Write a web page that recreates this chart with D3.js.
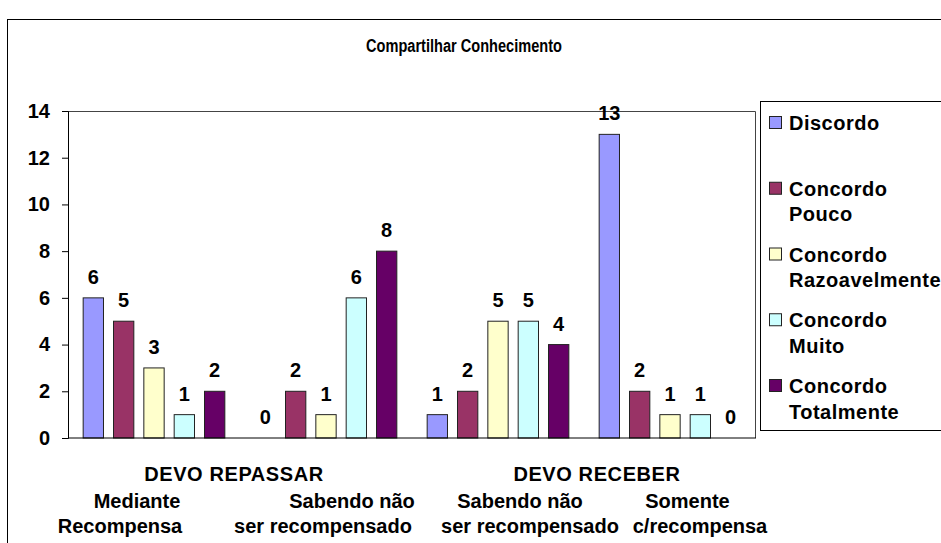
<!DOCTYPE html>
<html><head><meta charset="utf-8">
<script src="https://cdn.jsdelivr.net/npm/d3@7"></script>
<style>
html,body{margin:0;padding:0;background:#fff;}
text{font-family:Arial,"Liberation Sans",sans-serif;font-weight:bold;fill:#000;}
</style></head>
<body><svg id="chart" width="941" height="543"></svg>
<script>
// ---- data ----
const title = "Compartilhar Conhecimento";
const categories = ["Mediante Recompensa", "Repassar Sabendo não ser recompensado", "Receber Sabendo não ser recompensado", "Somente c/recompensa"];
const catLine2 = ["Mediante", "Sabendo não", "Sabendo não", "Somente"];
const catLine3 = ["Recompensa", "ser recompensado", "ser recompensado", "c/recompensa"];
const groupTitles = ["DEVO REPASSAR", "DEVO RECEBER"];
const seriesNames = ["Discordo", "Concordo Pouco", "Concordo Razoavelmente", "Concordo Muito", "Concordo Totalmente"];
const legendLines = [["Discordo"], ["Concordo", "Pouco"], ["Concordo", "Razoavelmente"], ["Concordo", "Muito"], ["Concordo", "Totalmente"]];
const discordo = [6, 0, 1, 13];
const concordoPouco = [5, 2, 2, 2];
const concordoRazoavelmente = [3, 1, 5, 1];
const concordoMuito = [1, 6, 5, 1];
const concordoTotalmente = [2, 8, 4, 0];
const yTicks = [0, 2, 4, 6, 8, 10, 12, 14];

// ---- layout / style ----
const colors = ["#9999FF", "#993366", "#FFFFCC", "#CCFFFF", "#660066"];
const seriesValues = [discordo, concordoPouco, concordoRazoavelmente, concordoMuito, concordoTotalmente];
const plot = {left: 68, right: 756, top: 111, bottom: 438};
const line2Dx = [-17, 26, 22, 17.5];
const line3Dx = [-34, -3, 32, 30];
const groupTitleDx = [-6, 13];
const FS = 20;

const svg = d3.select("#chart");

// outer frame
svg.append("rect").attr("x", 7.5).attr("y", 19.5).attr("width", 960).attr("height", 560)
  .attr("fill", "none").attr("stroke", "#000").attr("stroke-width", 1);

svg.append("text").attr("x", 464).attr("y", 52).attr("text-anchor", "middle")
  .attr("textLength", 196).attr("lengthAdjust", "spacingAndGlyphs")
  .style("font-size", "18px").text(title);

const x0 = d3.scaleBand().domain(d3.range(categories.length)).range([plot.left, plot.right]);
const x1 = d3.scaleBand().domain(d3.range(seriesNames.length)).range([0, x0.bandwidth()])
  .paddingInner(0.33).paddingOuter(0.5);
const y = d3.scaleLinear().domain([0, 14]).range([plot.bottom, plot.top]);

// plot area border (top and right)
svg.append("path")
  .attr("d", `M${plot.left},${plot.top + 0.5}H${plot.right - 0.5}V${plot.bottom}`)
  .attr("fill", "none").attr("stroke", "#444").attr("stroke-width", 1);

// bars
const g = svg.append("g");
seriesValues.forEach((vals, s) => {
  vals.forEach((v, c) => {
    const bx = x0(c) + x1(s);
    if (v > 0) {
      g.append("rect").attr("x", bx).attr("y", y(v))
        .attr("width", x1.bandwidth()).attr("height", y(0) - y(v))
        .attr("fill", colors[s]).attr("stroke", "#222").attr("stroke-width", 1);
    }
    g.append("text").attr("x", bx + x1.bandwidth() / 2).attr("y", y(v) - 14)
      .attr("text-anchor", "middle").style("font-size", FS + "px").text(v);
  });
});

// y axis
const yAxis = d3.axisLeft(y).tickValues(yTicks).tickSize(6).tickPadding(12);
const ya = svg.append("g").attr("transform", `translate(${plot.left},0)`).call(yAxis);
ya.select(".domain").attr("stroke", "#000");
ya.selectAll(".tick line").attr("stroke", "#000");
ya.selectAll(".tick text").style("font-size", FS + "px").style("font-family", "Arial, 'Liberation Sans', sans-serif")
  .style("font-weight", "bold").attr("fill", "#000");

// x axis baseline
svg.append("line").attr("x1", plot.left).attr("x2", plot.right).attr("y1", y(0)).attr("y2", y(0))
  .attr("stroke", "#000");

// category labels
groupTitles.forEach((t, i) => {
  const cx = (x0(2 * i) + x0(2 * i + 1) + x0.bandwidth()) / 2;
  svg.append("text").attr("x", cx + groupTitleDx[i]).attr("y", 481).attr("text-anchor", "middle")
    .style("font-size", FS + "px").style("letter-spacing", "0.6px").text(t);
});
categories.forEach((c, i) => {
  const cx = x0(i) + x0.bandwidth() / 2;
  svg.append("text").attr("x", cx + line2Dx[i]).attr("y", 508).attr("text-anchor", "middle")
    .style("font-size", FS + "px").text(catLine2[i]);
  svg.append("text").attr("x", cx + line3Dx[i]).attr("y", 533).attr("text-anchor", "middle")
    .style("font-size", FS + "px").text(catLine3[i]);
});

// legend
svg.append("rect").attr("x", 760.5).attr("y", 101.5).attr("width", 300).attr("height", 329)
  .attr("fill", "#fff").attr("stroke", "#000").attr("stroke-width", 1);
const itemY = d3.scaleLinear().domain([0, 4]).range([123, 386]);
legendLines.forEach((lines, i) => {
  const cy = itemY(i);
  svg.append("rect").attr("x", 769.5).attr("y", cy - 6.5).attr("width", 12).attr("height", 12)
    .attr("fill", colors[i]).attr("stroke", "#222").attr("stroke-width", 1);
  lines.forEach((ln, k) => {
    svg.append("text").attr("x", 789).attr("y", cy + 7 + k * 25.5)
      .style("font-size", FS + "px").style("letter-spacing", "0.5px").text(ln);
  });
});
</script></body></html>
